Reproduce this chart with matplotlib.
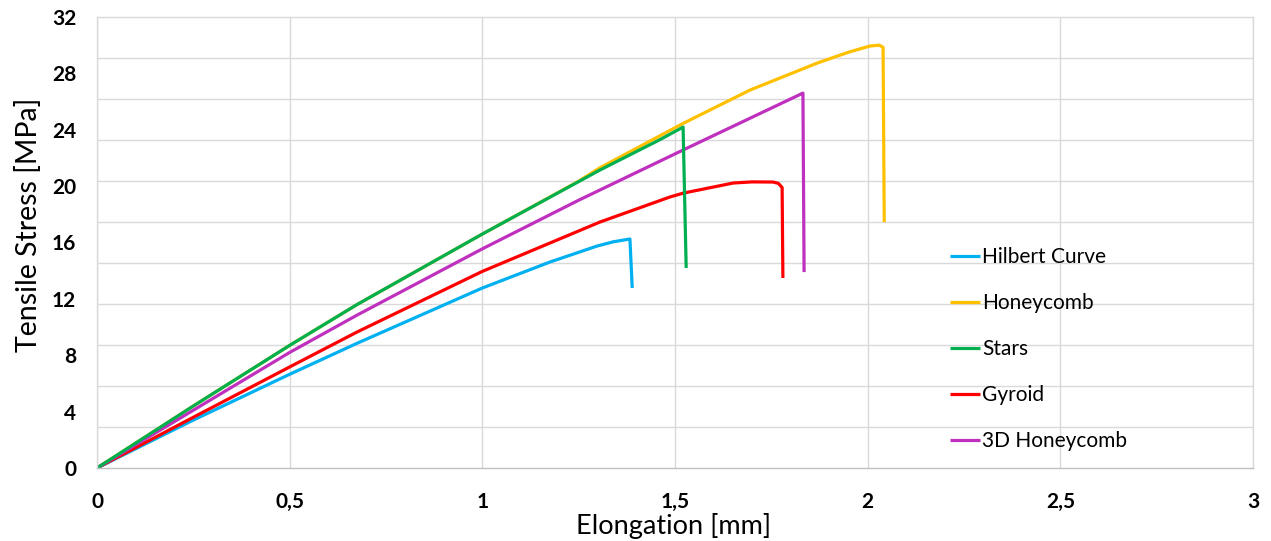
import numpy as np
import matplotlib.pyplot as plt

plt.rcParams['font.family'] = ['Lato', 'DejaVu Sans']

# Data (elongation [mm], tensile stress [MPa]) -----------------------------------
hilbert_x = [0, 0.25, 0.5, 0.675, 1.0, 1.176, 1.298, 1.34, 1.383, 1.389]
hilbert_y = [0, 3.4, 6.65, 8.85, 12.77, 14.62, 15.75, 16.05, 16.25, 12.77]

honeycomb_x = [0, 0.25, 0.5, 0.675, 1.0, 1.25, 1.305, 1.521, 1.695, 1.869, 1.95, 2.006, 2.03, 2.04, 2.043]
honeycomb_y = [0, 4.4, 8.7, 11.6, 16.6, 20.35, 21.3, 24.45, 26.82, 28.73, 29.5, 29.94, 30.0, 29.85, 17.45]

stars_x = [0, 0.25, 0.5, 0.675, 1.0, 1.305, 1.461, 1.521, 1.529]
stars_y = [0, 4.4, 8.7, 11.6, 16.6, 21.14, 23.3, 24.19, 14.19]

gyroid_x = [0, 0.25, 0.5, 0.675, 1.0, 1.305, 1.487, 1.521, 1.651, 1.70, 1.754, 1.768, 1.778, 1.780]
gyroid_y = [0, 3.6, 7.17, 9.65, 13.95, 17.45, 19.23, 19.5, 20.22, 20.3, 20.29, 20.2, 19.9, 13.48]

honey3d_x = [0, 0.25, 0.5, 0.675, 1.0, 1.25, 1.52, 1.832, 1.835]
honey3d_y = [0, 4.1, 8.2, 10.85, 15.55, 19.0, 22.55, 26.6, 13.9]

series = [
    ("Hilbert Curve", hilbert_x, hilbert_y, "#00b0f0"),
    ("Honeycomb", honeycomb_x, honeycomb_y, "#ffc000"),
    ("Stars", stars_x, stars_y, "#00b050"),
    ("Gyroid", gyroid_x, gyroid_y, "#ff0000"),
    ("3D Honeycomb", honey3d_x, honey3d_y, "#bf30bf"),
]

x_ticks = [0, 0.5, 1, 1.5, 2, 2.5, 3]
x_tick_labels = ["0", "0,5", "1", "1,5", "2", "2,5", "3"]
y_ticks = [0, 4, 8, 12, 16, 20, 24, 28, 32]

# Plot -------------------------------------------------------------------------
fig = plt.figure(figsize=(12.71, 5.41), dpi=100)
ax = fig.add_axes([97 / 1271, 73 / 541, 1156 / 1271, 451 / 541])

# draw order: honeycomb under stars so the shared part shows green
order = [1, 0, 3, 4, 2]
handles = {}
for i in order:
    name, xs, ys, col = series[i]
    (ln,) = ax.plot(xs, ys, color=col, lw=2.3, solid_joinstyle='round',
                    solid_capstyle='butt', label=name)
    handles[i] = ln

ax.set_xlim(0, 3)
ax.set_ylim(0, 32)
ax.set_xticks(x_ticks)
ax.set_xticklabels(x_tick_labels)
ax.set_yticks(y_ticks)
ax.set_yticks(np.linspace(0, 32, 12), minor=True)
ax.tick_params(which='both', length=0)
ax.tick_params(axis='y', pad=15, labelsize=15)
ax.tick_params(axis='x', pad=17, labelsize=15)
for lab in ax.get_xticklabels() + ax.get_yticklabels():
    lab.set_fontweight('bold')

ax.grid(which='minor', axis='y', color='#d9d9d9', lw=1)
ax.grid(which='major', axis='x', color='#d9d9d9', lw=1)
ax.grid(which='major', axis='y', visible=False)
ax.set_axisbelow(True)
for sp in ax.spines.values():
    sp.set_color('#d9d9d9')
    sp.set_linewidth(1)
ax.spines['bottom'].set_color('#bfbfbf')

ax.set_xlabel("Elongation [mm]", fontsize=19.5)
ax.set_ylabel("Tensile Stress [MPa]", fontsize=20.5)
ax.xaxis.set_label_coords(0.499, -0.1)
ax.yaxis.set_label_coords(-0.0476, 0.539)

leg = ax.legend([handles[i] for i in range(5)], [s[0] for s in series],
                loc='upper left', bbox_to_anchor=(950 / 1271, 1 - 247 / 541),
                bbox_transform=fig.transFigure, frameon=False, fontsize=15,
                handlelength=1.45, handletextpad=0.1, labelspacing=1.25,
                borderpad=0, borderaxespad=0)

fig.savefig("out.png", dpi=100)
